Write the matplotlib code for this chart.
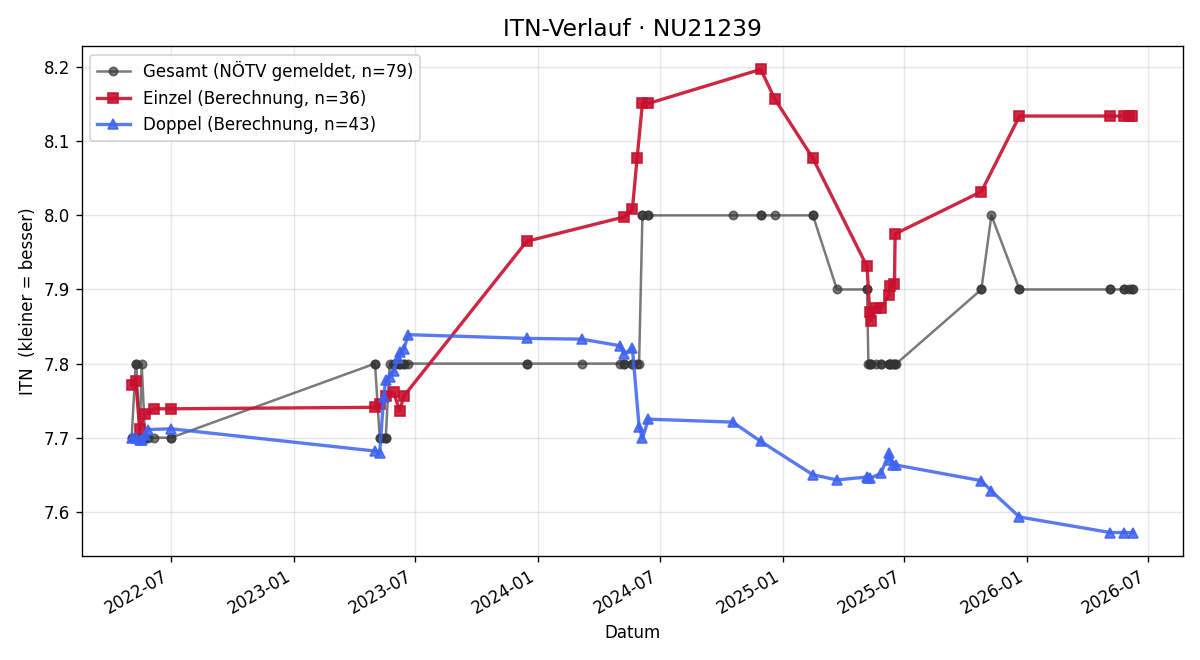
import numpy as np
import pandas as pd
import matplotlib
matplotlib.use("Agg")
import matplotlib.pyplot as plt
import matplotlib.dates as mdates

# Gesamt (NÖTV gemeldet) - one entry per match date
gesamt_dates = [
    "2022-05-03", "2022-05-03", "2022-05-09", "2022-05-10", "2022-05-15", "2022-05-15",
    "2022-05-18", "2022-05-23", "2022-05-23", "2022-05-27", "2022-06-06", "2022-07-01",
    "2022-07-01",
    "2023-05-02", "2023-05-02", "2023-05-09", "2023-05-09", "2023-05-15", "2023-05-18",
    "2023-05-18", "2023-05-24", "2023-05-30", "2023-05-30", "2023-06-05", "2023-06-08",
    "2023-06-09", "2023-06-14", "2023-06-14", "2023-06-21",
    "2023-12-15", "2023-12-15", "2024-03-06", "2024-05-03", "2024-05-09", "2024-05-09",
    "2024-05-21", "2024-05-21", "2024-05-28", "2024-05-31", "2024-06-05", "2024-06-05",
    "2024-06-14", "2024-06-14",
    "2024-10-18", "2024-11-29", "2024-11-29", "2024-12-20", "2025-02-15", "2025-02-15",
    "2025-03-23",
    "2025-05-07", "2025-05-07", "2025-05-09", "2025-05-11", "2025-05-11", "2025-05-13",
    "2025-05-20", "2025-05-28", "2025-05-28", "2025-06-09", "2025-06-09", "2025-06-11",
    "2025-06-11", "2025-06-15", "2025-06-17", "2025-06-18", "2025-06-20",
    "2025-10-25", "2025-10-25", "2025-11-09", "2025-12-21", "2025-12-21", "2026-05-06",
    "2026-05-06", "2026-05-27", "2026-05-27", "2026-06-03", "2026-06-08", "2026-06-09",
]
gesamt_itn = [
    7.7, 7.7, 7.8, 7.8, 7.7, 7.7,
    7.8, 7.7, 7.7, 7.7, 7.7, 7.7,
    7.7,
    7.8, 7.8, 7.7, 7.7, 7.7, 7.7,
    7.7, 7.8, 7.8, 7.8, 7.8, 7.8,
    7.8, 7.8, 7.8, 7.8,
    7.8, 7.8, 7.8, 7.8, 7.8, 7.8,
    7.8, 7.8, 7.8, 7.8, 8.0, 8.0,
    8.0, 8.0,
    8.0, 8.0, 8.0, 8.0, 8.0, 8.0,
    7.9,
    7.9, 7.9, 7.8, 7.8, 7.8, 7.8,
    7.8, 7.8, 7.8, 7.8, 7.8, 7.8,
    7.8, 7.8, 7.8, 7.8, 7.8,
    7.9, 7.9, 8.0, 7.9, 7.9, 7.9,
    7.9, 7.9, 7.9, 7.9, 7.9, 7.9,
]

# Einzel (Berechnung)
einzel_dates = [
    "2022-05-03", "2022-05-09", "2022-05-15", "2022-05-23", "2022-06-06", "2022-07-01",
    "2023-05-02", "2023-05-09", "2023-05-18", "2023-05-30", "2023-06-08", "2023-06-14",
    "2023-12-15", "2024-05-09", "2024-05-21", "2024-05-28", "2024-06-05", "2024-06-14",
    "2024-11-29", "2024-12-20", "2025-02-15",
    "2025-05-07", "2025-05-11", "2025-05-13", "2025-05-20", "2025-05-28", "2025-06-09",
    "2025-06-11", "2025-06-17", "2025-06-18",
    "2025-10-25", "2025-12-21", "2026-05-06", "2026-05-27", "2026-06-03", "2026-06-08",
]
einzel_itn = [
    7.771, 7.777, 7.712, 7.732, 7.739, 7.739,
    7.741, 7.745, 7.756, 7.761, 7.736, 7.756,
    7.965, 7.998, 8.008, 8.077, 8.151, 8.151,
    8.197, 8.157, 8.077,
    7.931, 7.869, 7.858, 7.875, 7.875, 7.893,
    7.905, 7.907, 7.975,
    8.032, 8.134, 8.134, 8.134, 8.134, 8.134,
]

# Doppel (Berechnung)
doppel_dates = [
    "2022-05-03", "2022-05-10", "2022-05-15", "2022-05-18", "2022-05-23", "2022-05-27",
    "2022-07-01",
    "2023-05-02", "2023-05-09", "2023-05-15", "2023-05-18", "2023-05-24", "2023-05-30",
    "2023-06-05", "2023-06-09", "2023-06-14", "2023-06-21",
    "2023-12-15", "2024-03-06", "2024-05-03", "2024-05-09", "2024-05-21", "2024-05-31",
    "2024-06-05", "2024-06-14",
    "2024-10-18", "2024-11-29", "2025-02-15", "2025-03-23",
    "2025-05-07", "2025-05-09", "2025-05-11", "2025-05-28", "2025-06-09", "2025-06-11",
    "2025-06-15", "2025-06-20",
    "2025-10-25", "2025-11-09", "2025-12-21", "2026-05-06", "2026-05-27", "2026-06-09",
]
doppel_itn = [
    7.700, 7.700, 7.697, 7.697, 7.703, 7.711,
    7.712,
    7.682, 7.680, 7.755, 7.778, 7.782, 7.790,
    7.808, 7.815, 7.820, 7.839,
    7.834, 7.833, 7.824, 7.813, 7.821, 7.715,
    7.699, 7.725,
    7.721, 7.695, 7.650, 7.643,
    7.647, 7.646, 7.645, 7.652, 7.680, 7.670,
    7.663, 7.663,
    7.642, 7.628, 7.593, 7.572, 7.572, 7.572,
]

fig, ax = plt.subplots(figsize=(10, 5.5), dpi=120)

ax.plot(pd.to_datetime(gesamt_dates), gesamt_itn, marker='o', color='#333333',
        alpha=0.65, linewidth=1.5, markersize=5,
        label=f"Gesamt (NÖTV gemeldet, n={len(gesamt_itn)})")
ax.plot(pd.to_datetime(einzel_dates), einzel_itn, marker='s', color='#c8102e',
        alpha=0.9, linewidth=2, markersize=6,
        label=f"Einzel (Berechnung, n={len(einzel_itn)})")
ax.plot(pd.to_datetime(doppel_dates), doppel_itn, marker='^', color='#3d63f0',
        alpha=0.85, linewidth=2, markersize=6,
        label=f"Doppel (Berechnung, n={len(doppel_itn)})")

ax.set_title("ITN-Verlauf · NU21239", fontsize=14)
ax.set_xlabel("Datum")
ax.set_ylabel("ITN  (kleiner = besser)")
ax.grid(True, alpha=0.3)
ax.legend(loc='upper left')

ax.xaxis.set_major_locator(mdates.MonthLocator(bymonth=(1, 7)))
ax.xaxis.set_major_formatter(mdates.DateFormatter('%Y-%m'))
fig.autofmt_xdate()

plt.subplots_adjust(left=0.068, right=0.986, top=0.930, bottom=0.158)
plt.savefig("out.png", dpi=120)
